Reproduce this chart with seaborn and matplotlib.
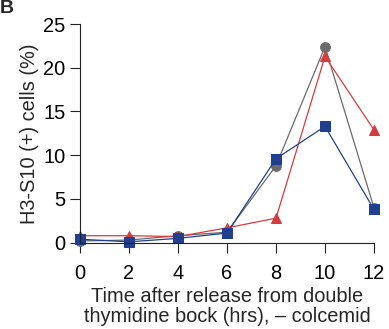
import pandas as pd
import matplotlib
matplotlib.use("Agg")
import matplotlib.pyplot as plt
import seaborn as sns

# --- DATA ---
hours = [0, 2, 4, 6, 8, 10, 12]
gray_vals = [0.2, 0.3, 0.8, 1.2, 8.8, 22.4, 4.0]
red_vals = [0.8, 0.8, 0.7, 1.7, 2.8, 21.3, 12.9]
blue_vals = [0.4, 0.1, 0.5, 1.1, 9.6, 13.3, 3.8]
series_names = ["gray", "red", "blue"]
y_ticks = [0, 5, 10, 15, 20, 25]
x_ticks = [0, 2, 4, 6, 8, 10, 12]

df = pd.DataFrame({
    "hrs": hours * 3,
    "pct": gray_vals + red_vals + blue_vals,
    "series": sum([[s] * len(hours) for s in series_names], []),
})

# --- STYLE ---
sns.set_theme(style="ticks")
plt.rcParams['font.family'] = ['Liberation Sans', 'DejaVu Sans']
fs = 14.4

colors = {"gray": "#6b6b6b", "red": "#d63c3f", "blue": "#20408f"}
markers = {"gray": "o", "red": "^", "blue": "s"}
msize = {"gray": 7, "red": 7, "blue": 6.8}

fig = plt.figure(figsize=(3.89, 3.29), dpi=100)
ax = fig.add_axes([0.2057, 0.2623, 0.7557, 0.6647])

for s in series_names:
    sub = df[df["series"] == s]
    sns.lineplot(data=sub, x="hrs", y="pct", ax=ax, color=colors[s],
                 marker=markers[s], markersize=msize[s],
                 markeredgecolor=colors[s], linewidth=0.9, legend=False)

ax.set_xlim(0, 12)
ax.set_ylim(0, 25)
ax.set_xticks(x_ticks)
ax.set_yticks(y_ticks)
ax.tick_params(axis='both', direction='out', length=7.5, width=0.8,
               colors='#222222', labelsize=fs, labelcolor='black')
ax.tick_params(axis='x', pad=7.5)
ax.tick_params(axis='y', pad=3)
sns.despine(ax=ax)
for sp in ['left', 'bottom']:
    ax.spines[sp].set_linewidth(0.8)
    ax.spines[sp].set_color('#222222')
for line in ax.lines:
    line.set_clip_on(False)

ax.set_xlabel("Time after release from double\nthymidine bock (hrs), \u2013 colcemid",
              fontsize=fs, linespacing=1.08, labelpad=3)
ax.set_ylabel("H3-S10 (+) cells (%)", fontsize=fs, labelpad=3)

fig.text(0.0, 1.0, "B", fontsize=14, fontweight='bold', ha='left', va='top')

fig.savefig("out.png", dpi=100)
